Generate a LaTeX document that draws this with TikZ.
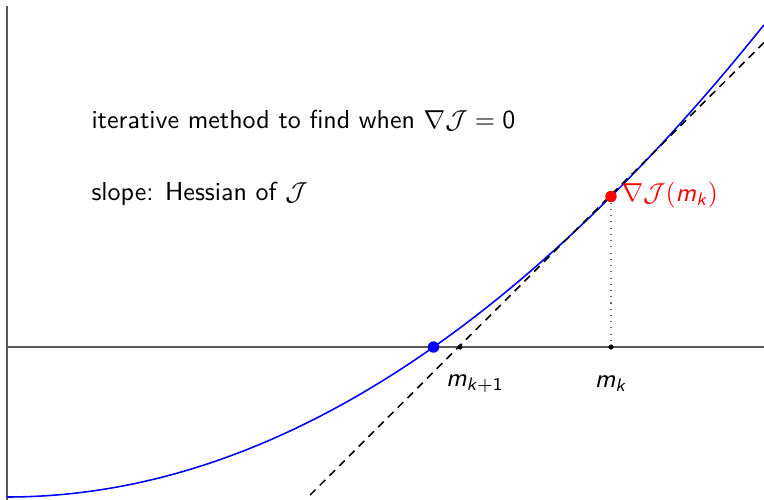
\documentclass[tikz,border=0pt]{standalone}
\newcommand{\vm}{\textit{m}}
\newcommand{\vmk}{\vm\textsubscript{\textit{k}}}
\newcommand{\vmkk}{\vm\textsubscript{\textit{k}$+$1}}
\begin{document}
\sffamily
\begin{tikzpicture}[x=0.385pt,y=-0.385pt,
  axis/.style={draw=black!65,line width=0.45pt},
  curve/.style={blue,line width=0.6pt},
  tangent/.style={black,line width=0.6pt,dash pattern=on 3pt off 2.3pt},
  bigdot/.style={circle,inner sep=0pt,minimum size=4.4pt},
  smalldot/.style={circle,fill=black,inner sep=0pt,minimum size=2pt},
  lbl/.style={inner sep=0pt,anchor=west}]
\useasboundingbox (0,0) rectangle (764,500);
% axes
\coordinate (ytop) at (7,6);
\coordinate (ybot) at (7,500);
\coordinate (xleft) at (7,347);
\coordinate (xright) at (764,347);
\draw[axis] (ytop) -- (ybot);
\draw[axis] (xleft) -- (xright);
% curve
\draw[curve] plot[domain=7:764,samples=120] (\x,{497-0.000825*(\x-7)*(\x-7)});
% tangent
\coordinate (t1) at (310,495.1);
\coordinate (t2) at (764,42.5);
\draw[tangent] (t1) -- (t2);
% points
\node[smalldot] (mk) at (611,347) {};
\node[smalldot] (mk1) at (460,347) {};
\node[bigdot,fill=red] (gk) at (611,196.5) {};
\draw[black!60,dotted,line width=0.4pt] (gk) -- (mk);
\node[bigdot,fill=blue] (root) at (433.5,347) {};
% labels
\node[lbl] (t1lbl) at (91,121) {iterative method to find when $\nabla\mathcal{J}=\mbox{0}$};
\node[lbl] (t2lbl) at (91,194) {slope: Hessian of $\mathcal{J}$};
\node[lbl,text=red] (glbl) at (621,195) {$\nabla\mathcal{J}($\vmk$)$};
\node[inner sep=0pt] (mk1lbl) at (475,384) {\vmkk};
\node[inner sep=0pt] (mklbl) at (611,384) {\vmk};
\end{tikzpicture}
\end{document}
